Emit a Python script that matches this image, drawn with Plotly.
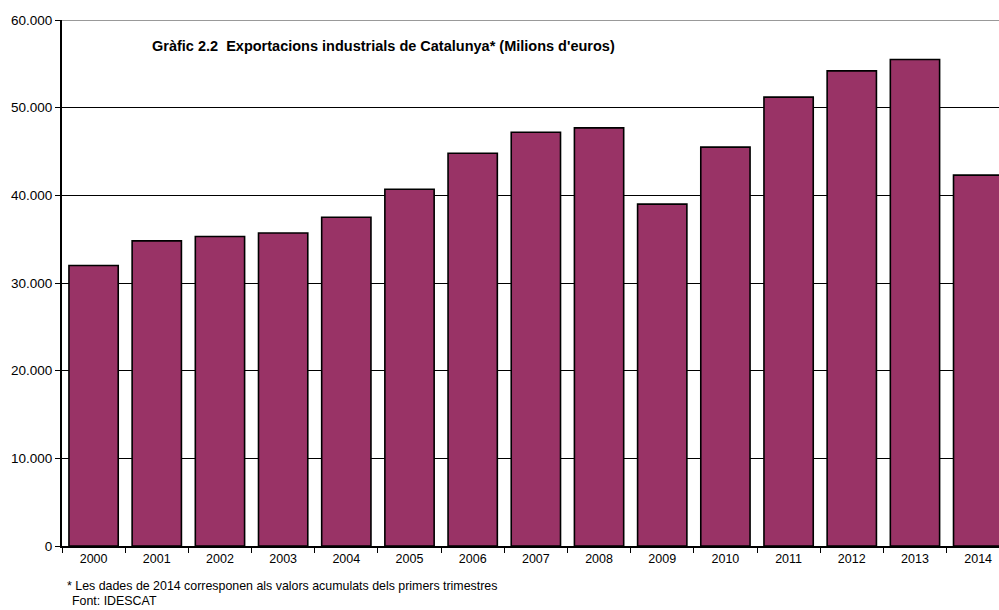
import plotly.graph_objects as go

years = ["2000", "2001", "2002", "2003", "2004", "2005", "2006", "2007",
         "2008", "2009", "2010", "2011", "2012", "2013", "2014"]
exports = [32000, 34800, 35300, 35700, 37500, 40700, 44800, 47200,
           47700, 39000, 45500, 51200, 54200, 55500, 42300]
y_ticks = [0, 10000, 20000, 30000, 40000, 50000, 60000]

title_text = "Gràfic 2.2  Exportacions industrials de Catalunya* (Milions d'euros)"
note_text = "* Les dades de 2014 corresponen als valors acumulats dels primers trimestres"
source_text = "Font: IDESCAT"

fig = go.Figure()
fig.add_trace(go.Bar(
    x=years, y=exports,
    marker=dict(color="#993366", line=dict(color="#000000", width=1.6)),
    width=0.78,
))

fig.update_layout(
    width=999, height=610,
    margin=dict(l=62, r=0, t=20, b=64),
    paper_bgcolor="white", plot_bgcolor="white",
    separators=",.",
    showlegend=False,
    font=dict(family="Liberation Sans, Arial, sans-serif", size=12, color="#000000"),
    xaxis=dict(
        type="category",
        range=[-0.5, 14.33],
        tickson="boundaries", ticks="outside", ticklen=5, tickcolor="#000",
        showline=True, linecolor="#000", linewidth=1.5,
        showgrid=False,
        tickfont=dict(size=12.5),
    ),
    yaxis=dict(
        range=[0, 60000],
        tickvals=y_ticks, tickformat=",d",
        ticks="outside", ticklen=5, tickcolor="#000",
        showline=True, linecolor="#000", linewidth=2,
        showgrid=True, gridcolor="#000", gridwidth=1.2,
        zeroline=False,
        tickfont=dict(size=13.5),
    ),
)

fig.add_shape(type="line", xref="paper", yref="y", x0=0, x1=1, y0=60000, y1=60000,
              line=dict(color="#999999", width=2), layer="above")

fig.add_annotation(x=(150 - 62) / 937, y=0.95, xref="paper", yref="paper",
                   xanchor="left", yanchor="middle", showarrow=False,
                   text="<b>" + title_text + "</b>",
                   font=dict(size=14.5, color="#000"))

fig.add_annotation(x=(65 - 62) / 937, y=-(586 - 546) / 526, xref="paper", yref="paper",
                   xanchor="left", yanchor="middle", showarrow=False,
                   text=note_text, font=dict(size=12.4, color="#000"))
fig.add_annotation(x=(70 - 62) / 937, y=-(601 - 546) / 526, xref="paper", yref="paper",
                   xanchor="left", yanchor="middle", showarrow=False,
                   text=source_text, font=dict(size=12.4, color="#000"))

fig.write_html("out.html")
